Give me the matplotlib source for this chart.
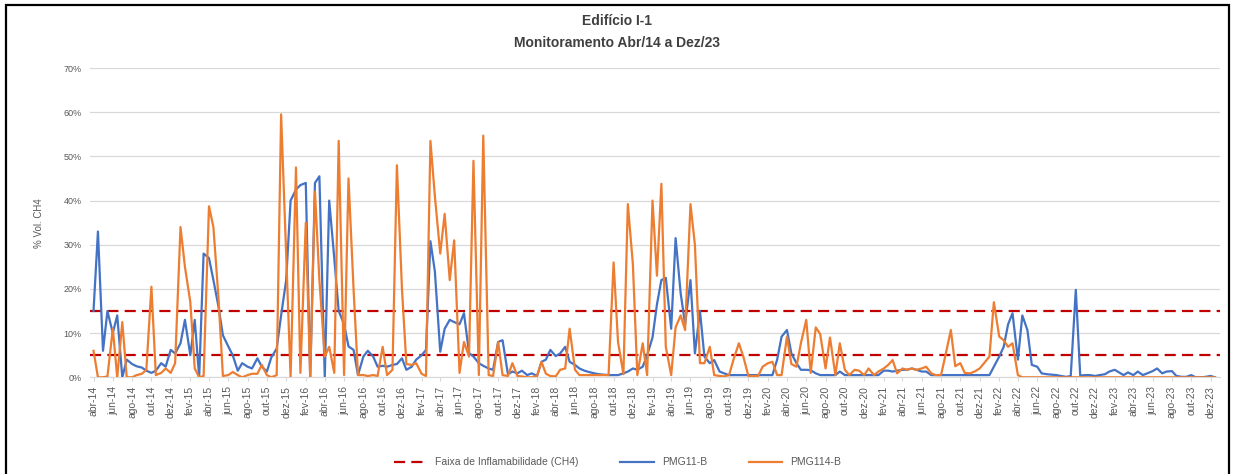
import pandas as pd
import matplotlib
matplotlib.use("Agg")
import matplotlib.pyplot as plt
import matplotlib.dates as mdates
from matplotlib.patches import Rectangle
from matplotlib.ticker import PercentFormatter, FuncFormatter

# leituras quinzenais (dias 1 e 15), abr/14 a dez/23, % vol. CH4
pmg11_b = [
    15, 33, 6, 15, 10, 14, 0, 4, 3, 2.5, 2.2, 1.5, 1, 1.5, 3.2, 2.4, 6.2, 5.4,                      # 2014
    7.7, 13, 5, 13, 0, 28, 27, 22, 16, 9.5, 7, 5, 1.5, 3.2, 2.4, 2, 4.3, 2.4, 1.3, 4.5, 6.5, 14, 22, 40,  # 2015
    42.5, 43.5, 44, 0, 44, 45.5, 0, 40, 27, 15, 12, 7, 6.2, 0.5, 4.7, 6, 4.7, 2.4, 2.6, 2.4, 2.8, 3, 4.3, 1.7,  # 2016
    2.4, 4, 5, 6.2, 30.8, 24, 5.8, 11, 13, 12.5, 12, 14.5, 5.5, 4.7, 3.2, 2.6, 2, 1.7, 8, 8.4, 0.7, 1.3, 0.9, 1.5,  # 2017
    0.5, 0.9, 0.3, 3.5, 4, 6.2, 4.8, 5.4, 6.9, 3.5, 2.8, 2, 1.5, 1.2, 0.9, 0.7, 0.6, 0.5, 0.5, 0.5, 0.9, 1.3, 2, 1.7,  # 2018
    2.4, 5, 9, 16.5, 22, 22.5, 11, 31.5, 19, 12, 22, 5.4, 15, 4.7, 3.2, 3.9, 1.3, 0.9, 0.5, 0.5, 0.5, 0.5, 0.5, 0.5,  # 2019
    0.5, 0.5, 0.5, 0.5, 4, 9.2, 10.7, 5.4, 3.2, 1.7, 1.7, 1.6, 0.9, 0.5, 0.5, 0.5, 0.5, 1.3, 0.5, 0.5, 0.5, 0.5, 0.5, 0.5,  # 2020
    0.5, 0.5, 1.5, 1.5, 1.3, 1.5, 1.7, 1.7, 2, 1.7, 1.3, 1.3, 0.5, 0.5, 0.5, 0.5, 0.5, 0.5, 0.5, 0.5, 0.5, 0.5, 0.5, 0.5,  # 2021
    0.5, 2.4, 4.7, 6.9, 12, 14.5, 4, 14, 10.7, 2.8, 2.4, 0.9, 0.7, 0.6, 0.5, 0.3, 0.1, 0.3, 19.8, 0.4, 0.5, 0.5, 0.3, 0.5,  # 2022
    0.7, 1.3, 1.7, 1.1, 0.5, 1.1, 0.5, 1.3, 0.5, 0.9, 1.4, 2, 0.9, 1.3, 1.4, 0.3, 0.1, 0.1, 0.5, 0, 0, 0.1, 0.3, 0,  # 2023
]
pmg114_b = [
    6, 0, 0, 0.2, 11, 0, 12.5, 0, 0, 0.5, 0.8, 1.7, 20.5, 0.5, 1, 2, 1, 3.2,                       # 2014
    34, 25, 17, 2, 0, 0.3, 38.7, 34, 18, 0.3, 0.5, 1.2, 0.5, 0, 0.5, 0.8, 0.8, 2.8, 0.5, 0, 0.5, 59.5, 28, 0,  # 2015
    47.5, 1, 35, 0, 42, 22, 4.7, 6.9, 1, 53.5, 0.5, 45, 20, 0.5, 0.5, 0.3, 0.5, 0.3, 6.9, 0.5, 1.7, 48, 20, 3,  # 2016
    2.8, 3.2, 0.8, 0.3, 53.5, 41, 28, 37, 22, 31, 1, 8, 4.7, 49, 0.5, 54.7, 0.5, 0.3, 8, 0.5, 0.3, 3.2, 0.3, 0.2,  # 2017
    0, 0, 0.3, 3.5, 0.8, 0.3, 0.2, 1.7, 2, 11, 1.7, 0.5, 0.5, 0.5, 0.5, 0.5, 0.5, 0.5, 26, 8, 0.7, 39.2, 25.5, 0.5,  # 2018
    7.7, 0.5, 40, 23, 43.8, 6.9, 0.5, 11.3, 14, 10.7, 39.2, 30, 3.2, 3.2, 6.9, 0.5, 0.3, 0.2, 0.5, 4, 7.7, 4.7, 0.3, 0.3,  # 2019
    0.3, 2.4, 3.2, 3.5, 0.5, 0.5, 9.2, 3, 2.4, 7.7, 13, 1, 11.3, 9.8, 2, 9, 0.5, 7.7, 1.7, 0.5, 1.7, 1.5, 0.5, 2,  # 2020
    0.5, 1.3, 2, 2.8, 3.9, 0.9, 2, 1.7, 2, 1.7, 2, 2.4, 0.9, 0.5, 0.5, 5, 10.7, 2.5, 3.2, 1, 0.9, 1.3, 2, 3.2,  # 2021
    4.7, 17, 9.2, 8.4, 6.9, 7.7, 0.5, 0, 0, 0, 0, 0, 0, 0, 0, 0, 0, 0, 0, 0, 0, 0, 0, 0,  # 2022
    0, 0, 0, 0, 0, 0, 0, 0, 0, 0, 0, 0, 0, 0, 0, 0, 0, 0, 0, 0, 0, 0, 0, 0,  # 2023
]
faixa_inflamabilidade = [5, 15]
meses_pt = ["jan", "fev", "mar", "abr", "mai", "jun",
            "jul", "ago", "set", "out", "nov", "dez"]

datas = pd.date_range("2014-04-01", periods=len(pmg11_b), freq="SMS")

plt.rcParams["font.family"] = ["Liberation Sans", "DejaVu Sans"]
cinza = "#595959"

fig = plt.figure(figsize=(12.35, 4.74), dpi=100)
ax = fig.add_axes([0.0729, 0.204, 0.915, 0.6525])

for i, lim in enumerate(faixa_inflamabilidade):
    ax.axhline(lim, color="#c00000", lw=1.6, dashes=(5, 2.8),
               label="Faixa de Inflamabilidade (CH4)" if i == 0 else None, zorder=3)
ax.plot(datas, pmg11_b, color="#4472c4", lw=1.6, label="PMG11-B", zorder=4)
ax.plot(datas, pmg114_b, color="#ed7d31", lw=1.6, label="PMG114-B", zorder=5)

ax.set_ylim(0, 70)
ax.set_yticks(range(0, 71, 10))
ax.yaxis.set_major_formatter(PercentFormatter(decimals=0))
ax.set_xlim(pd.Timestamp("2014-03-21"), pd.Timestamp("2023-12-31"))
ax.xaxis.set_major_locator(mdates.MonthLocator(bymonth=[2, 4, 6, 8, 10, 12]))
ax.xaxis.set_major_formatter(FuncFormatter(
    lambda v, pos: f"{meses_pt[mdates.num2date(v).month - 1]}-{mdates.num2date(v).year % 100:02d}"))
plt.setp(ax.get_xticklabels(), rotation=90, fontsize=7.5, color=cinza)
plt.setp(ax.get_yticklabels(), fontsize=6.5, color=cinza)
ax.tick_params(axis="x", length=3, color="#d9d9d9", pad=3)
ax.tick_params(axis="y", length=0, pad=6)

ax.grid(axis="y", color="#d9d9d9", lw=0.9)
ax.set_axisbelow(True)
for lado in ["top", "right", "left"]:
    ax.spines[lado].set_visible(False)
ax.spines["bottom"].set_color("#d9d9d9")

ax.set_ylabel("% Vol. CH4", fontsize=7, color=cinza, labelpad=14)

fig.text(0.5, 0.955, "Edifício I-1", ha="center", va="center",
         fontsize=10, fontweight="bold", color="#404040")
fig.text(0.5, 0.91, "Monitoramento Abr/14 a Dez/23", ha="center", va="center",
         fontsize=10, fontweight="bold", color="#404040")

fig.legend(loc="center", bbox_to_anchor=(0.5, 0.025), ncol=3, frameon=False,
           fontsize=7.5, labelcolor=cinza, handlelength=3.2, columnspacing=4)

fig.patches.append(Rectangle((0.005, -0.1), 0.99, 1.0905, transform=fig.transFigure,
                             fill=False, ec="black", lw=1.6))

fig.savefig("out.png", dpi=100)
